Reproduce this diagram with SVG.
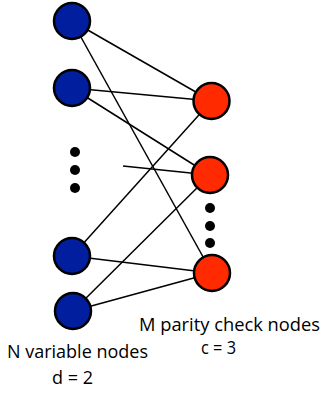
<svg xmlns="http://www.w3.org/2000/svg" width="323" height="394" viewBox="0 0 323 394">
<style>
.edge{stroke:#000;stroke-width:1.5;fill:none}
.var{fill:#001E9E;stroke:#000;stroke-width:2.5}
.chk{fill:#FF2A00;stroke:#000;stroke-width:2.5}
.dot{fill:#000}
.lbl{font-family:"Open Sans","Liberation Sans",sans-serif;font-size:18px;fill:#000}
</style>
<rect width="323" height="394" fill="#fff"/>
<g id="connectors">
<line class="edge" x1="72" y1="21" x2="211.5" y2="101"/>
<line class="edge" x1="72" y1="21" x2="212" y2="273"/>
<line class="edge" x1="72" y1="88" x2="211.5" y2="101"/>
<line class="edge" x1="72" y1="88" x2="210" y2="175"/>
<line class="edge" x1="123" y1="166" x2="210" y2="175"/>
<line class="edge" x1="211.5" y1="101" x2="72" y2="256"/>
<line class="edge" x1="210" y1="175" x2="73" y2="311"/>
<line class="edge" x1="72" y1="256" x2="212" y2="273"/>
<line class="edge" x1="73" y1="311" x2="212" y2="273"/>
</g>
<g id="v1"><circle class="var" cx="72" cy="21" r="18"/></g>
<g id="v2"><circle class="var" cx="72" cy="88" r="18"/></g>
<g id="vdots"><circle class="dot" cx="75" cy="152" r="5"/><circle class="dot" cx="75" cy="170" r="5"/><circle class="dot" cx="75" cy="188" r="5"/></g>
<g id="v3"><circle class="var" cx="72" cy="256" r="18"/></g>
<g id="v4"><circle class="var" cx="73" cy="311" r="18"/></g>
<g id="c1"><circle class="chk" cx="211.5" cy="101" r="18"/></g>
<g id="c2"><circle class="chk" cx="210" cy="175" r="18"/></g>
<g id="cdots"><circle class="dot" cx="210" cy="208" r="5"/><circle class="dot" cx="210" cy="226" r="5"/><circle class="dot" cx="210" cy="243" r="5"/></g>
<g id="c3"><circle class="chk" cx="212" cy="273" r="18"/></g>
<g id="labels">
<text class="lbl" x="139" y="331" textLength="181" lengthAdjust="spacingAndGlyphs">M parity check nodes</text>
<text class="lbl" x="201" y="354" textLength="35" lengthAdjust="spacingAndGlyphs">c = 3</text>
<text class="lbl" x="7" y="358" textLength="141" lengthAdjust="spacingAndGlyphs">N variable nodes</text>
<text class="lbl" x="52" y="384" textLength="41" lengthAdjust="spacingAndGlyphs">d = 2</text>
</g>
</svg>
